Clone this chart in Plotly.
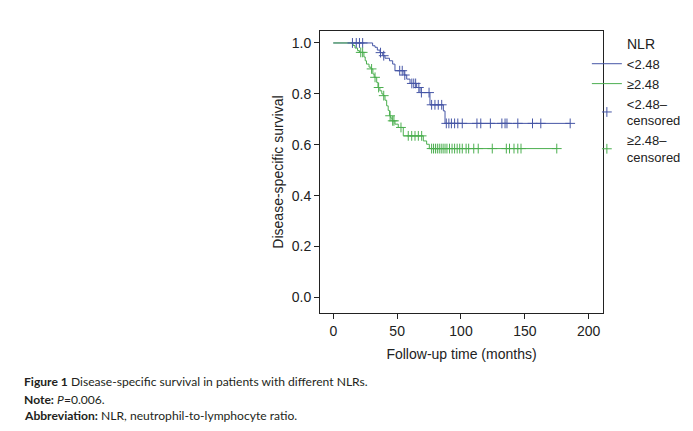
import numpy as np
import plotly.graph_objects as go

# ---- data ----
# Kaplan-Meier steps, NLR < 2.48
low_times = [0, 30.8, 32.7, 34.5, 36.6, 38.7, 40.5, 44, 46.5, 48.3, 55.4, 57.5,
             60.1, 65.3, 67.9, 75.7, 86.2, 87.5]
low_surv = [1.0, 0.989, 0.983, 0.972, 0.962, 0.950, 0.94, 0.93, 0.917, 0.891,
            0.874, 0.858, 0.841, 0.825, 0.805, 0.757, 0.733, 0.684]
low_end = 185.5
low_censor = [15, 18, 20.5, 23, 37, 39.5, 52, 54, 56, 61.5, 63, 64.5, 67, 69, 75,
              77, 79.6, 82.2, 84.9, 88.5, 90.5, 92.5, 95, 97.5, 101, 112.5, 115.5,
              123, 132, 134.5, 136, 144.5, 156, 162.5, 185.5]

# Kaplan-Meier steps, NLR >= 2.48
high_times = [0, 15.5, 17, 19, 20.5, 24, 25, 26, 28, 29.5, 31, 32, 34, 35, 36.5,
              38, 39, 40.5, 41.8, 43, 44, 45, 46, 48.3, 50.9, 54.8, 70.5, 73.1, 75.2]
high_surv = [1.0, 0.99, 0.98, 0.97, 0.963, 0.945, 0.93, 0.917, 0.905, 0.898,
             0.878, 0.865, 0.845, 0.825, 0.812, 0.80, 0.793, 0.775, 0.753, 0.735,
             0.714, 0.705, 0.694, 0.681, 0.668, 0.635, 0.615, 0.602, 0.585]
high_end = 175
high_censor = [21.5, 23, 30, 32.7, 35.5, 39.5, 44.5, 46.5, 47.5, 53, 58.7, 61.4,
               64, 66.6, 69.2, 77, 78.5, 80, 81.5, 83, 84.5, 86, 87.5, 89, 91, 93,
               95, 97, 99, 101, 104, 106, 110, 113.5, 124.5, 135.5, 138, 141.5,
               144.5, 147, 175]

labels = ["<2.48", "≥2.48", "<2.48–<br>censored", "≥2.48–<br>censored"]
x_ticks = [0, 50, 100, 150, 200]
y_ticks = [0.0, 0.2, 0.4, 0.6, 0.8, 1.0]

BLUE = "#4656a6"
GREEN = "#4caf50"
FONT = "Liberation Sans, Arial, sans-serif"


def step_value(times, surv, t):
    idx = np.searchsorted(np.asarray(times), np.asarray(t), side="right") - 1
    return list(np.asarray(surv)[idx])


fig = go.Figure()

fig.add_trace(go.Scatter(
    x=low_times + [low_end], y=low_surv + [low_surv[-1]],
    mode="lines", line=dict(color=BLUE, width=1, shape="hv"), name=labels[0]))
fig.add_trace(go.Scatter(
    x=high_times + [high_end], y=high_surv + [high_surv[-1]],
    mode="lines", line=dict(color=GREEN, width=1, shape="hv"), name=labels[1]))
fig.add_trace(go.Scatter(
    x=low_censor, y=step_value(low_times, low_surv, low_censor),
    mode="markers", name=labels[2],
    marker=dict(symbol="cross-thin", size=7, line=dict(color=BLUE, width=1))))
fig.add_trace(go.Scatter(
    x=high_censor, y=step_value(high_times, high_surv, high_censor),
    mode="markers", name=labels[3],
    marker=dict(symbol="cross-thin", size=7, line=dict(color=GREEN, width=1))))

axis_common = dict(
    showgrid=False, zeroline=False, showline=True, linecolor="#222", linewidth=1,
    mirror=True, ticks="outside", ticklen=5, tickcolor="#222", tickwidth=1,
    tickfont=dict(size=14, color="#222", family=FONT), automargin=False,
)
fig.update_xaxes(range=[-10.4, 211.2], tickvals=x_ticks,
                 title=dict(text="Follow-up time (months)",
                            font=dict(size=14, color="#222", family=FONT),
                            standoff=11),
                 **axis_common)
fig.update_yaxes(range=[-0.061, 1.047], tickvals=y_ticks, tickformat=".1f",
                 title=dict(text="Disease-specific survival",
                            font=dict(size=14, color="#222", family=FONT),
                            standoff=4),
                 **axis_common)

fig.add_annotation(xref="paper", yref="paper", x=1.078, y=0.955,
                   xanchor="left", yanchor="middle", showarrow=False,
                   text="NLR", font=dict(size=14, color="#222", family=FONT))

caption_font = dict(size=12.1, color="#231f20", family="Lato, sans-serif")
captions = [
    "<b>Figure 1</b> Disease-specific survival in patients with different NLRs.",
    "<b>Note:</b> <i>P</i>=0.006.",
    "<b>Abbreviation:</b> NLR, neutrophil-to-lymphocyte ratio.",
]
cap_y = [-0.2436, -0.305, -0.362]
for txt, yy in zip(captions, cap_y):
    fig.add_annotation(xref="paper", yref="paper", x=-1.054, y=yy,
                       xanchor="left", yanchor="middle", showarrow=False,
                       text=txt, font=caption_font, align="left")

# the page body adds an 8px offset, so the figure is drawn 8px smaller
fig.update_layout(
    width=685, height=423,
    margin=dict(l=312, r=90, t=23, b=118, autoexpand=False),
    paper_bgcolor="white", plot_bgcolor="white",
    font=dict(family=FONT, size=14, color="#222"),
    showlegend=True,
    legend=dict(x=0.943, y=0.937, xanchor="left", yanchor="top",
                font=dict(size=13, color="#222", family=FONT),
                itemwidth=30, tracegroupgap=0, bgcolor="rgba(0,0,0,0)",
                traceorder="normal"),
)

fig.write_html("out.html")
